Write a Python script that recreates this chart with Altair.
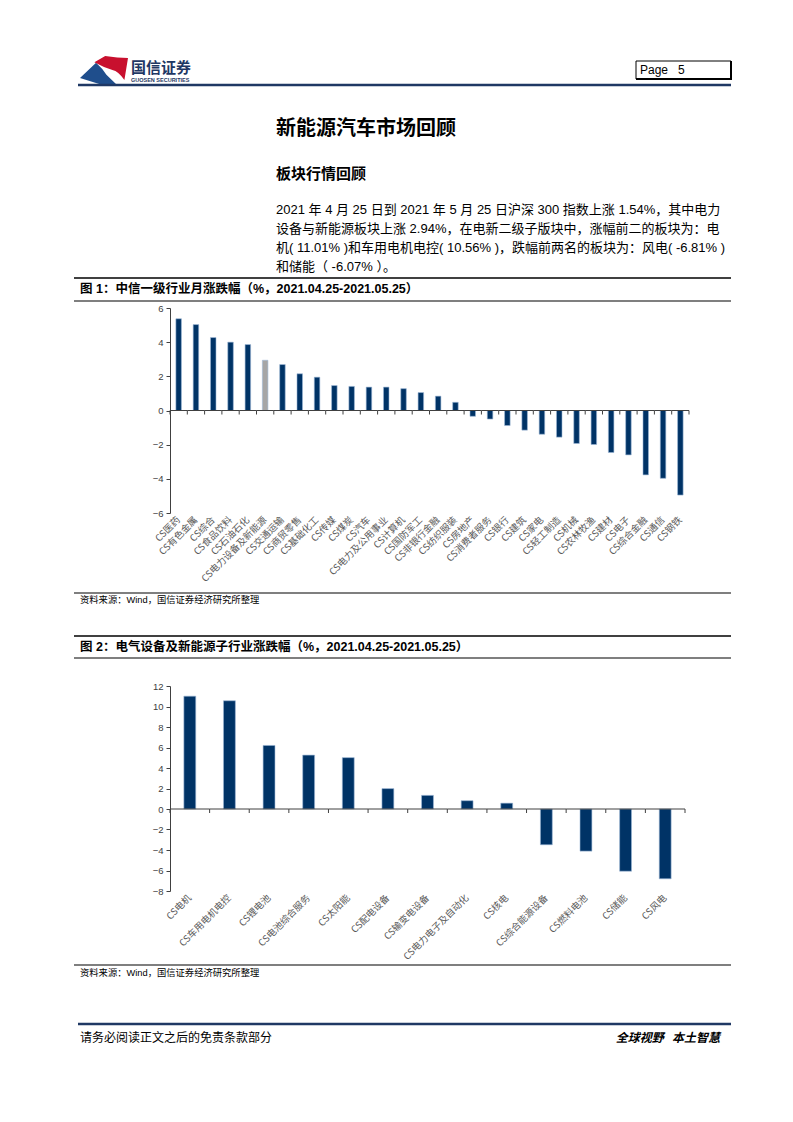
import altair as alt
import pandas as pd

# ---------------- data ----------------
ind_cats = ["CS医药", "CS有色金属", "CS综合", "CS食品饮料", "CS石油石化", "CS电力设备及新能源",
            "CS交通运输", "CS商贸零售", "CS基础化工", "CS传媒", "CS煤炭", "CS汽车",
            "CS电力及公用事业", "CS计算机", "CS国防军工", "CS非银行金融", "CS纺织服装",
            "CS房地产", "CS消费者服务", "CS银行", "CS建筑", "CS家电", "CS轻工制造",
            "CS机械", "CS农林牧渔", "CS建材", "CS电子", "CS综合金融", "CS通信", "CS钢铁"]
ind_vals = [5.37, 5.03, 4.27, 4.00, 3.86, 2.94, 2.69, 2.15, 1.95, 1.46, 1.41, 1.37,
            1.37, 1.28, 1.05, 0.84, 0.48, -0.34, -0.50, -0.88, -1.15, -1.39, -1.56,
            -1.93, -1.99, -2.46, -2.60, -3.77, -3.97, -4.95]
highlight_cat = "CS电力设备及新能源"
ind_ticks = [-6, -4, -2, 0, 2, 4, 6]

sub_cats = ["CS电机", "CS车用电机电控", "CS锂电池", "CS电池综合服务", "CS太阳能", "CS配电设备",
            "CS输变电设备", "CS电力电子及自动化", "CS核电", "CS综合能源设备", "CS燃料电池",
            "CS储能", "CS风电"]
sub_vals = [11.01, 10.56, 6.20, 5.26, 5.01, 1.99, 1.33, 0.81, 0.57, -3.49, -4.11, -6.07, -6.81]
sub_ticks = [-8, -6, -4, -2, 0, 2, 4, 6, 8, 10, 12]

# ---------------- texts ----------------
NB = "\u00a0"
logo_cn = "国信证券"
logo_en = "GUOSEN SECURITIES"
page_txt = "Page" + NB * 3 + "5"
title_txt = "新能源汽车市场回顾"
subtitle_txt = "板块行情回顾"
para_lines = [
    "2021 年 4 月 25 日到 2021 年 5 月 25 日沪深 300 指数上涨 1.54%，其中电力",
    "设备与新能源板块上涨 2.94%，在电新二级子版块中，涨幅前二的板块为：电",
    "机( 11.01% )和车用电机电控( 10.56% )，跌幅前两名的板块为：风电( -6.81% )",
    "和储能（ -6.07% ）。",
]
fig1_title = "图 1：中信一级行业月涨跌幅（%，2021.04.25-2021.05.25）"
fig2_title = "图 2：电气设备及新能源子行业涨跌幅（%，2021.04.25-2021.05.25）"
source_txt = "资料来源：Wind，国信证券经济研究所整理"
footer_left = "请务必阅读正文之后的免责条款部分"
footer_right = "全球视野" + NB * 3 + "本土智慧"

FONT = "Liberation Sans, Noto Sans CJK SC"
CJK = "Noto Sans CJK SC"
NAVY = "#003366"
HEAD = "#1F3864"
M = 8  # page margin

ONE = pd.DataFrame({"k": [0]})


def hline(x1, x2, y, color="#000000", w=1.2):
    return alt.Chart(ONE).mark_rule(color=color, strokeWidth=w).encode(
        x=alt.value(x1 - M), x2=alt.value(x2 - M), y=alt.value(y - M))


def vline(x, y1, y2, color="#000000", w=1.2):
    return alt.Chart(ONE).mark_rule(color=color, strokeWidth=w).encode(
        x=alt.value(x - M), y=alt.value(y1 - M), y2=alt.value(y2 - M))


def label(s, x, y, size, weight="normal", color="#000000", font=FONT,
          align="left", style="normal"):
    return alt.Chart(pd.DataFrame({"t": [s]})).mark_text(
        align=align, baseline="middle", fontSize=size, fontWeight=weight,
        font=font, color=color, fontStyle=style).encode(
        text="t:N", x=alt.value(x - M), y=alt.value(y - M))


decor = []
# logo
blue_path = "M -1,0.33 L -0.33,-0.3 Q -0.05,-0.05 0.1,0.2 L 0.5,0.58 L -0.2,0.58 Z"
red_path = ("M -0.4,-0.32 L 0.05,-0.58 L 0.55,-0.52 L 1,-0.5 L 0.85,0.42 "
            "Q 0.6,0.05 0.35,0.0 L 0.0,-0.12 Z")
decor.append(alt.Chart(ONE).mark_point(shape=blue_path, size=2304, filled=True,
                                       color="#1F4E8C", opacity=1).encode(
    x=alt.value(104 - M), y=alt.value(70 - M)))
decor.append(alt.Chart(ONE).mark_point(shape=red_path, size=2304, filled=True,
                                       color="#C8102E", opacity=1).encode(
    x=alt.value(104 - M), y=alt.value(70 - M)))
decor.append(label(logo_cn, 131, 68, 15, "bold", HEAD, CJK))
decor.append(label(logo_en, 131, 80, 5.5, "bold", HEAD, "Liberation Sans"))
# page box
decor.append(alt.Chart(ONE).mark_rect(fill="white", stroke="#000000", strokeWidth=1).encode(
    x=alt.value(636 - M), x2=alt.value(731 - M), y=alt.value(61 - M), y2=alt.value(79 - M)))
decor.append(vline(731, 61, 80, w=2))
decor.append(hline(636, 732, 79, w=2))
decor.append(label(page_txt, 640, 70, 12, "normal", "#000000", "Liberation Sans"))
# header line
decor.append(hline(78, 731, 85, HEAD, 2.5))
# titles
decor.append(label(title_txt, 276, 129, 20, "bold", "#000000", CJK))
decor.append(label(subtitle_txt, 276, 174, 15, "bold", "#000000", CJK))
for i, ln in enumerate(para_lines):
    decor.append(label(ln, 276, 210 + i * 19, 13, "normal", "#000000"))
# figure 1 frame
decor.append(hline(74, 731, 278, w=1.5))
decor.append(label(fig1_title, 80, 289, 12.5, "bold"))
decor.append(hline(74, 731, 301, w=1.2))
decor.append(hline(74, 731, 593, w=1.2))
decor.append(label(source_txt, 80, 600, 9.3, "normal", "#000000"))
# figure 2 frame
decor.append(hline(74, 731, 636, w=1.5))
decor.append(label(fig2_title, 80, 647, 12.5, "bold"))
decor.append(hline(74, 731, 658, w=1.2))
decor.append(hline(74, 731, 965, w=1.2))
decor.append(label(source_txt, 80, 973, 9.3, "normal", "#000000"))
# footer
decor.append(hline(78, 731, 1024, HEAD, 2.5))
decor.append(label(footer_left, 80, 1038, 12, "normal", "#000000", CJK))
decor.append(label(footer_right, 720, 1038, 12, "bold", "#000000", CJK, "right", "italic"))

H = 1106


def bar_panel(cats, vals, domain, ticks, x_left, x_right, y_bottom, y_top, frac, hl=None):
    df = pd.DataFrame({"cat": cats, "val": vals})
    xs = alt.Scale(range=[x_left - M, x_right - M], paddingInner=0, paddingOuter=0)
    ys = alt.Scale(domain=domain, range=[y_bottom - M, y_top - M], nice=False, zero=False)
    x_axis = alt.Axis(orient="bottom", offset=(y_bottom - M) - H, title=None, labelAngle=-45,
                      ticks=False, domain=False, grid=False, labelFont=CJK, labelFontSize=9.5,
                      labelColor="#595959", labelPadding=5, labelOverlap=False,
                      labelAlign="right", labelBaseline="middle", labelLimit=300)
    y_axis = alt.Axis(orient="left", offset=-(x_left - M), title=None, values=ticks,
                      format="d", grid=False, domainColor="#404040", tickColor="#404040",
                      tickSize=4, labelFont="Liberation Sans", labelFontSize=9.5,
                      labelColor="#404040", labelPadding=3)
    if hl is not None:
        col = alt.condition(alt.datum.cat == hl, alt.value("#A6A6A6"), alt.value(NAVY))
    else:
        col = alt.value(NAVY)
    bars = alt.Chart(df).mark_bar(width=alt.RelativeBandSize(frac), stroke="#9DB8D6",
                                  strokeWidth=0.6).encode(
        x=alt.X("cat:N", sort=cats, scale=xs, axis=x_axis),
        y=alt.Y("val:Q", scale=ys, axis=y_axis),
        color=col)
    zero = alt.Chart(df).mark_rule(color="#404040", strokeWidth=1).encode(
        x=alt.X("cat:N", sort=cats, bandPosition=0),
        x2=alt.X2("cat:N", bandPosition=1),
        y=alt.datum(0))
    tks = alt.Chart(df).mark_rule(color="#404040", strokeWidth=1, y2Offset=4).encode(
        x=alt.X("cat:N", sort=cats, bandPosition=0),
        y=alt.datum(0), y2=alt.datum(0))
    end_tk = alt.Chart(df).transform_filter(alt.datum.cat == cats[-1]).mark_rule(
        color="#404040", strokeWidth=1, y2Offset=4).encode(
        x=alt.X("cat:N", sort=cats, bandPosition=1),
        y=alt.datum(0), y2=alt.datum(0))
    return alt.layer(bars, zero, tks, end_tk)


panel1 = bar_panel(ind_cats, ind_vals, [-6, 6], ind_ticks, 170, 689, 513, 308, 0.32, highlight_cat)
panel2 = bar_panel(sub_cats, sub_vals, [-8, 12], sub_ticks, 170, 685, 891, 686, 0.3)

chart = alt.layer(*decor, panel1, panel2).resolve_scale(
    x="independent", y="independent").properties(
    width=777, height=H, padding=0, autosize=alt.AutoSizeParams(type="none"),
    background="white").configure_view(stroke=None)

chart.save("out.html", embed_options={"renderer": "svg", "actions": False})
